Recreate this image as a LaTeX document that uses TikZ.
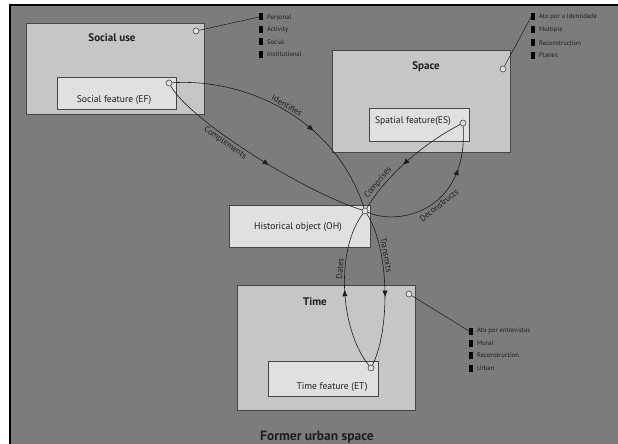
\documentclass[tikz,border=0pt]{standalone}
\usepackage{fontspec}
\setmainfont{PT Sans}
\usetikzlibrary{decorations.markings,arrows.meta}

\definecolor{groundcol}{RGB}{124,124,124}
\definecolor{boxcol}{RGB}{198,198,198}
\definecolor{featcol}{RGB}{224,224,224}
\definecolor{edgecol}{RGB}{70,70,70}
\definecolor{inkcol}{RGB}{30,30,30}

\tikzset{
  areabox/.style={draw=edgecol, fill=boxcol, line width=0.8pt},
  featbox/.style={draw=edgecol, fill=featcol, line width=0.8pt},
  areatitle/.style={font=\bfseries\fontsize{11}{13}\selectfont, text=inkcol},
  feattext/.style={font=\fontsize{9.6}{11}\selectfont, text=inkcol},
  marker/.style={circle, draw=edgecol, fill=featcol, line width=0.6pt, minimum size=6pt, inner sep=0pt},
  link/.style={draw=inkcol, line width=0.6pt},
  lbl/.style={font=\fontsize{8.5}{10}\selectfont, text=inkcol, inner sep=1.5pt},
  midarrow/.style={postaction={decorate}, decoration={markings,
      mark=at position #1 with {\arrow{Triangle[length=6pt,width=5pt]}}}},
  bullet/.style={fill=black, minimum width=3.5pt, minimum height=7pt, inner sep=0pt},
  itemtext/.style={font=\fontsize{6.6}{8}\selectfont, text=inkcol, anchor=west, inner sep=0pt},
  leader/.style={draw=inkcol, line width=0.5pt}
}

\begin{document}
\begin{tikzpicture}[x=1pt,y=-1pt]
\useasboundingbox (0,0) rectangle (618,444);
\fill[white] (0,0) rectangle (618,444);
% urban ground
\draw[fill=groundcol, draw=black, line width=1.2pt] (10,5) rectangle (630,456);

% --- Social use ---
\draw[areabox] (26,23) rectangle (204,114);
\node[areatitle] (socialtitle) at (112,38) {Social use};
\draw[featbox] (57,77) rectangle (176,109);
\node[feattext] (eftext) at (114,100) {Social feature (EF)};
\node[marker] (socialm) at (196,31) {};
\node[marker] (ef) at (169,83) {};

% --- Space ---
\draw[areabox] (332,50) rectangle (510,152);
\node[areatitle] (spacetitle) at (426,67) {Space};
\draw[featbox] (369,108) rectangle (469,141);
\node[feattext] (estext) at (413,121) {Spatial feature(ES)};
\node[marker] (spacem) at (503,69) {};
\node[marker] (es) at (463,123) {};

% --- Historical object ---
\draw[featbox] (229,205) rectangle (370,247);
\node[feattext] (ohtext) at (298,227) {Historical object (OH)};
\node[marker] (oh) at (365,211) {};

% --- Time ---
\draw[areabox] (237,285) rectangle (415,410);
\node[areatitle] (timetitle) at (315,302) {Time};
\draw[featbox] (268,361) rectangle (378,396);
\node[feattext] (ettext) at (332,387) {Time feature (ET)};
\node[marker] (timem) at (409,294) {};
\node[marker] (et) at (371,368) {};

\node[areatitle, font=\bfseries\fontsize{13.5}{15}\selectfont] (urban) at (317,437) {Former urban space};

% --- attribute lists ---
\node[bullet] (sb1) at (261,17) {};
\node[bullet] (sb2) at (261,29.5) {};
\node[bullet] (sb3) at (261,42) {};
\node[bullet] (sb4) at (261,54.5) {};
\node[itemtext] (st1) at (267,17) {Personal};
\node[itemtext] (st2) at (267,29.5) {Activity};
\node[itemtext] (st3) at (267,42) {Social};
\node[itemtext] (st4) at (267,54.5) {Institutional};
\draw[leader] (socialm) -- (sb1.west);

\node[bullet] (pb1) at (533,17) {};
\node[bullet] (pb2) at (533,30) {};
\node[bullet] (pb3) at (533,43) {};
\node[bullet] (pb4) at (533,55.5) {};
\node[itemtext] (pt1) at (539,17) {Ato por u Identidade};
\node[itemtext] (pt2) at (539,30) {Multiple};
\node[itemtext] (pt3) at (539,43) {Reconstruction};
\node[itemtext] (pt4) at (539,55.5) {Planes};
\draw[leader] (spacem) -- (pb1.west);

\node[bullet] (tb1) at (471,331) {};
\node[bullet] (tb2) at (471,343) {};
\node[bullet] (tb3) at (471,355.5) {};
\node[bullet] (tb4) at (471,368) {};
\node[itemtext] (tt1) at (477,331) {Ato por entrevistas};
\node[itemtext] (tt2) at (477,343) {Mural};
\node[itemtext] (tt3) at (477,355.5) {Reconstruction};
\node[itemtext] (tt4) at (477,368) {Urban};
\draw[leader] (timem) -- (tb1.west);

% --- relations ---
\draw[link, midarrow=0.62] (ef) .. controls (245,78) and (335,118) .. (oh)
  node[lbl, pos=0.5, sloped, above] {Identifies};
\draw[link, midarrow=0.55] (ef) .. controls (190,120) and (300,190) .. (oh)
  node[lbl, pos=0.4, sloped, below] {Complements};
\draw[link, midarrow=0.55] (es) .. controls (430,140) and (390,170) .. (oh)
  node[lbl, pos=0.8, sloped, above] {Comprises};
\draw[link, midarrow=0.72] (oh) .. controls (398,226) and (468,212) .. (es)
  node[lbl, pos=0.56, sloped, below] {Deconstructs};
\draw[link, midarrow=0.5] (et) .. controls (340,330) and (335,250) .. (oh)
  node[lbl, pos=0.62, sloped, above] {Dates};
\draw[link, midarrow=0.55] (oh) .. controls (390,250) and (390,330) .. (et)
  node[lbl, pos=0.3, sloped, above] {Transmits};
\end{tikzpicture}
\end{document}
